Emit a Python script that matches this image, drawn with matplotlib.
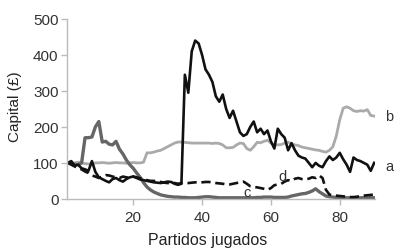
import numpy as np
import matplotlib.pyplot as plt

# matches played (1..90)
partidos = np.arange(1, 91)

# capital series
capital_a = [100, 105, 92, 95, 85, 82, 78, 105, 75, 60,
             55, 50, 46, 55, 58, 52, 48, 55, 60, 62,
             58, 54, 52, 50, 48, 46, 45, 44, 46, 48,
             47, 42, 39, 42, 345, 295, 410, 440, 432, 400,
             360, 345, 325, 285, 270, 290, 250, 225, 245, 215,
             185, 175, 180, 200, 215, 185, 195, 180, 190, 160,
             140, 195, 180, 170, 135, 155, 135, 120, 115, 112,
             100, 88, 100, 92, 88, 105, 118, 108, 115, 128,
             110, 95, 75, 115, 108, 105, 100, 95, 78, 100]

capital_b = [100, 98, 100, 102, 100, 98, 97, 96, 100, 100,
             101, 100, 99, 100, 101, 100, 100, 99, 100, 101,
             100, 100, 102, 128, 128, 130, 133, 135, 140, 145,
             150, 155, 158, 158, 157, 156, 155, 155, 155, 155,
             155, 155, 154, 155, 154, 150, 142, 142, 143, 150,
             155, 154, 140, 135, 145, 157, 156, 160, 163, 155,
             150, 150, 151, 155, 158, 152, 150, 148, 144, 142,
             140, 138, 136, 135, 132, 130, 135, 145, 175, 220,
             252, 256, 252, 245, 243, 245, 244, 248, 232, 230]

capital_c = [100, 98, 96, 95, 100, 170, 170, 172, 200, 215,
             158, 160, 152, 150, 160, 138, 125, 108, 95, 85,
             72, 60, 45, 33, 25, 19, 15, 11, 9, 7,
             6, 5, 5, 4, 4, 3, 3, 3, 4, 5,
             6, 6, 5, 4, 3, 3, 3, 3, 3, 3,
             3, 3, 3, 3, 3, 4, 4, 5, 5, 5,
             4, 4, 4, 4, 5, 8, 10, 12, 14, 15,
             18, 22, 28, 20, 14, 8, 6, 5, 4, 4,
             3, 3, 3, 3, 3, 3, 3, 3, 3, 3]

capital_d = [100, 95, 90, 86, 82, 76, 72, 65, 62, 58,
             62, 66, 65, 62, 60, 58, 62, 60, 58, 62,
             60, 57, 55, 52, 50, 50, 48, 47, 45, 44,
             43, 44, 42, 44, 45, 44, 45, 46, 45, 46,
             47, 47, 45, 44, 43, 42, 40, 40, 42, 44,
             46, 48, 42, 35, 33, 32, 30, 28, 25, 30,
             38, 40, 42, 48, 52, 50, 56, 58, 55, 54,
             56, 60, 58, 65, 58, 25, 12, 10, 9, 8,
             7, 6, 5, 5, 6, 8, 9, 10, 11, 12]

plt.rcParams['font.family'] = ['Liberation Sans', 'DejaVu Sans']

fig = plt.figure(figsize=(4, 2.53), dpi=100)
ax = fig.add_axes([0.167, 0.21, 0.771, 0.711])

ax.plot(partidos, capital_b, color="#aaaaaa", lw=2)
ax.plot(partidos, capital_c, color="#666666", lw=2.4)
ax.plot(partidos, capital_d, color="#111111", lw=1.9, dashes=(3.5, 1.8))
ax.plot(partidos, capital_a, color="#111111", lw=1.9)

# series labels
ax.text(93.2, 92, "a", fontsize=10.5, color="#333333", va="center", clip_on=False)
ax.text(93.2, 230, "b", fontsize=10.5, color="#333333", va="center", clip_on=False)
ax.text(53, 19, "c", fontsize=10.5, color="#333333", ha="center", va="center")
ax.text(63.5, 64, "d", fontsize=10.5, color="#333333", ha="center", va="center")

ax.set_xlim(0.7, 90.3)
ax.set_ylim(0, 500)
ax.set_xticks([20, 40, 60, 80])
ax.set_yticks([0, 100, 200, 300, 400, 500])

for side in ["top", "right"]:
    ax.spines[side].set_visible(False)
for side in ["left", "bottom"]:
    ax.spines[side].set_color("#bbbbbb")
    ax.spines[side].set_linewidth(1)
ax.tick_params(colors="#bbbbbb", labelcolor="#333333", labelsize=11, length=4, width=1)
ax.tick_params(axis="y", pad=2)
ax.tick_params(axis="x", pad=4)

ax.set_xlabel("Partidos jugados", fontsize=11.5, color="#222222")
ax.xaxis.set_label_coords(0.457, -0.225, transform=ax.transAxes)
ax.xaxis.label.set_va("center")
ax.set_ylabel("Capital (£)", fontsize=11, color="#222222")
ax.yaxis.set_label_coords(-0.167, 0.52, transform=ax.transAxes)
ax.yaxis.label.set_va("center")

fig.savefig("out.png", dpi=100)
